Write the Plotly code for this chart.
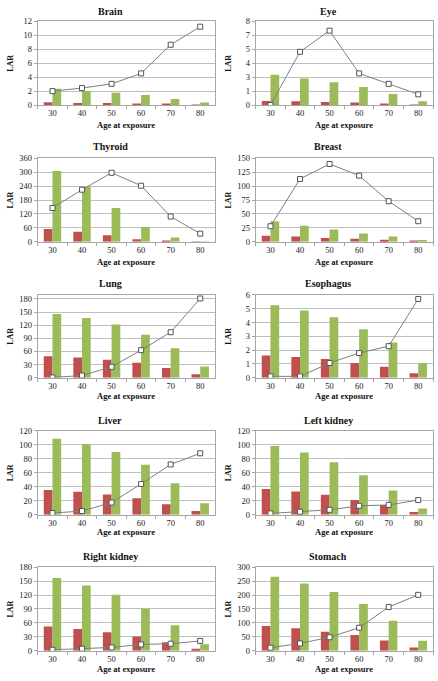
import plotly.graph_objects as go

ages = ["30", "40", "50", "60", "70", "80"]
titles = ["Brain", "Eye", "Thyroid", "Breast", "Lung", "Esophagus",
          "Liver", "Left kidney", "Right kidney", "Stomach"]

brain_red = [0.42, 0.33, 0.30, 0.23, 0.18, 0.03]
brain_green = [2.35, 2.02, 1.79, 1.46, 0.90, 0.38]
brain_line = [2.02, 2.45, 3.06, 4.56, 8.66, 11.25]

eye_red = [0.40, 0.38, 0.30, 0.25, 0.15, 0.03]
eye_green = [2.90, 2.54, 2.20, 1.73, 1.07, 0.38]
eye_line = [0.02, 5.10, 7.12, 3.04, 2.04, 1.04]

thyroid_red = [55, 43, 28, 11, 3, 1]
thyroid_green = [306, 238, 146, 64, 18, 1.5]
thyroid_line = [146, 225, 298, 242, 109, 35]

breast_red = [11, 9.5, 7, 5.3, 3.5, 1.2]
breast_green = [37, 29, 22, 15, 9.5, 3]
breast_line = [28, 113, 140, 119, 73, 37]

lung_red = [49, 46, 41, 34, 22.5, 8]
lung_green = [145.5, 136.5, 121.5, 98, 67.5, 25.5]
lung_line = [0.75, 5, 25, 63, 104, 181]

esophagus_red = [1.62, 1.50, 1.36, 1.07, 0.79, 0.33]
esophagus_green = [5.26, 4.88, 4.38, 3.52, 2.55, 1.05]
esophagus_line = [0.10, 0.10, 1.07, 1.79, 2.29, 5.71]

liver_red = [35.3, 33, 29, 23.5, 15, 5.2]
liver_green = [108.7, 101, 90, 71.5, 45, 16.5]
liver_line = [2.4, 5.2, 17.4, 44, 72, 88]

lkidney_red = [36.7, 33.4, 28.7, 21.2, 14, 3.8]
lkidney_green = [98.4, 89, 75.3, 56.5, 34.8, 9]
lkidney_line = [1.9, 4.2, 7, 12.7, 14, 21]

rkidney_red = [52, 47, 40, 30.5, 18.4, 4.3]
rkidney_green = [157, 141, 120.5, 90.7, 55, 14]
rkidney_line = [2, 4.3, 7, 13.5, 15, 21]

stomach_red = [88.6, 80.3, 68.5, 56.7, 36.6, 11.8]
stomach_green = [266, 242, 211, 168, 107.5, 35.4]
stomach_line = [10.6, 26, 48.4, 82.7, 157, 201]

y_max = [12, 8, 360, 150, 189, 6, 120, 120, 180, 300]
y_dtick = [2, 4 / 3, 60, 25, 30, 1, 20, 20, 30, 50]

reds = [brain_red, eye_red, thyroid_red, breast_red, lung_red, esophagus_red,
        liver_red, lkidney_red, rkidney_red, stomach_red]
greens = [brain_green, eye_green, thyroid_green, breast_green, lung_green,
          esophagus_green, liver_green, lkidney_green, rkidney_green, stomach_green]
lines = [brain_line, eye_line, thyroid_line, breast_line, lung_line,
         esophagus_line, liver_line, lkidney_line, rkidney_line, stomach_line]

W, H = 438, 681
col_x = [(37.7, 215.0), (255.7, 433.0)]
row_y = [(16.7, 101.7), (155.7, 240.3), (294.3, 378.3), (432.3, 517.3), (570.7, 655.3)]
title_y = [7, 144, 283, 422, 560]
xtitle_y = [122, 261, 397, 535, 674]
chart_x0 = [0, 218]

RED = "#C0504D"
GREEN = "#9BBB59"
FONT = "Liberation Serif"
AXC = "#a6a6a6"

fig = go.Figure()
annotations = []
for i in range(10):
    r, c = divmod(i, 2)
    n = i + 1
    xa = "x" if n == 1 else f"x{n}"
    ya = "y" if n == 1 else f"y{n}"
    fig.add_trace(go.Bar(x=ages, y=reds[i], marker_color=RED, marker_line_width=0,
                         xaxis=xa, yaxis=ya, showlegend=False, offsetgroup="a"))
    fig.add_trace(go.Bar(x=ages, y=greens[i], marker_color=GREEN, marker_line_width=0,
                         xaxis=xa, yaxis=ya, showlegend=False, offsetgroup="b"))
    fig.add_trace(go.Scatter(x=ages, y=lines[i], mode="lines+markers",
                             line=dict(color="#7f7f7f", width=1),
                             marker=dict(symbol="square", size=5, color="white",
                                         line=dict(color="#555555", width=1)),
                             xaxis=xa, yaxis=ya, showlegend=False))
    x0, x1 = col_x[c]
    yt, yb = row_y[r]
    xkey = "xaxis" if n == 1 else f"xaxis{n}"
    ykey = "yaxis" if n == 1 else f"yaxis{n}"
    fig.layout[xkey] = dict(
        domain=[x0 / W, x1 / W], anchor=ya, type="category",
        showline=True, linecolor=AXC, linewidth=1, mirror=True,
        ticks="outside", tickson="boundaries", ticklen=3, tickcolor=AXC,
        showgrid=False, tickfont=dict(family=FONT, size=8.5, color="#222"),
        fixedrange=True)
    fig.layout[ykey] = dict(
        domain=[1 - yb / H, 1 - yt / H], anchor=xa,
        range=[0, y_max[i]], tick0=0, dtick=y_dtick[i], tickformat=".0f",
        showline=True, linecolor=AXC, linewidth=1, mirror=True,
        ticks="outside", ticklen=3, tickcolor=AXC,
        showgrid=True, gridcolor="#bfbfbf", gridwidth=1, zeroline=False,
        tickfont=dict(family=FONT, size=8.5, color="#222"), fixedrange=True)
    annotations.append(dict(text=f"<b>{titles[i]}</b>", x=(chart_x0[c] + 110) / W,
                            y=1 - title_y[r] / H, xref="paper", yref="paper",
                            showarrow=False, xanchor="center", yanchor="middle",
                            font=dict(family=FONT, size=10, color="#111")))
    annotations.append(dict(text="<b>Age at exposure</b>", x=(x0 + x1) / 2 / W,
                            y=1 - xtitle_y[r] / H, xref="paper", yref="paper",
                            showarrow=False, xanchor="center", yanchor="middle",
                            font=dict(family=FONT, size=8.5, color="#111")))
    annotations.append(dict(text="<b>LAR</b>", x=(chart_x0[c] + 10.5) / W,
                            y=1 - (yt + yb) / 2 / H, xref="paper", yref="paper",
                            showarrow=False, xanchor="center", yanchor="middle",
                            textangle=-90,
                            font=dict(family=FONT, size=8, color="#111")))

fig.update_layout(
    width=W, height=H, autosize=False,
    margin=dict(l=0, r=0, t=0, b=0),
    paper_bgcolor="white", plot_bgcolor="white",
    barmode="group", bargap=0.41, bargroupgap=0,
    annotations=annotations, showlegend=False)

fig.write_html(
    "out.html",
    config={"displayModeBar": False},
    post_script="document.body.style.margin='0';document.body.style.padding='0';"
                "document.body.style.overflow='hidden';",
)
